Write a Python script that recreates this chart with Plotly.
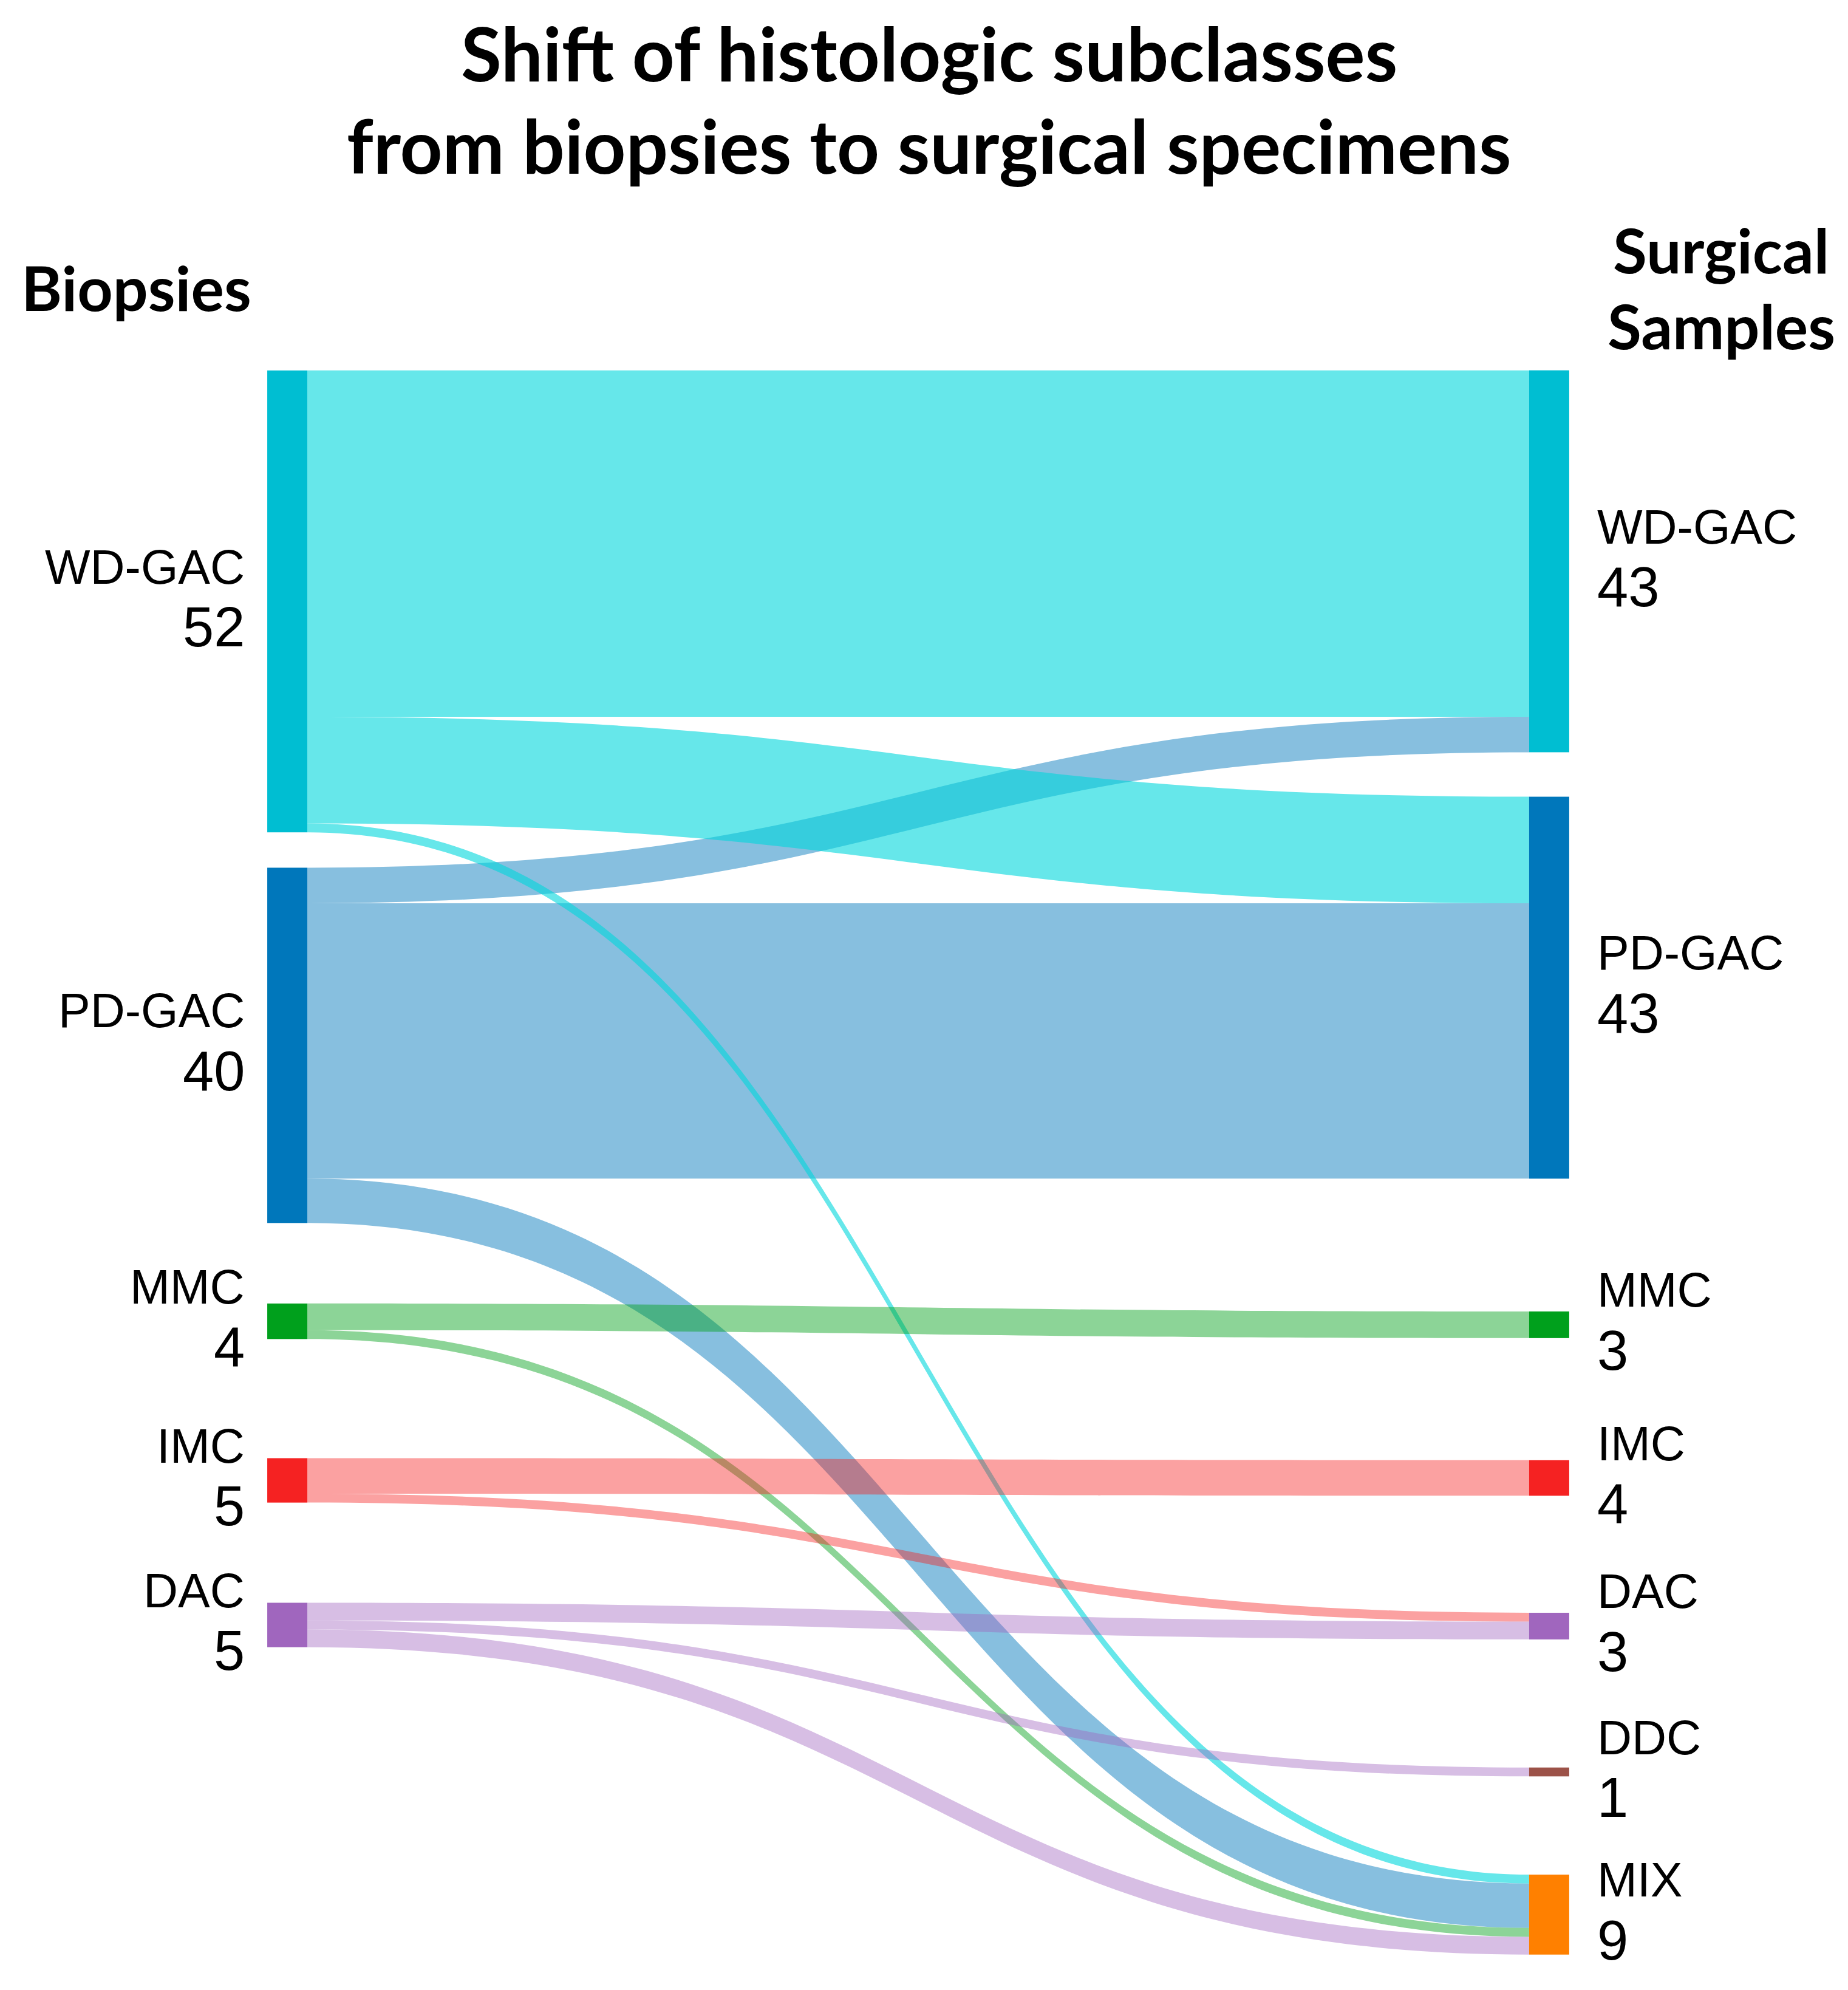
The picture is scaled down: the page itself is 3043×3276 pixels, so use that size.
import plotly.graph_objects as go

# histologic subclasses, left column = biopsies, right column = surgical samples
biopsy_classes = ["WD-GAC", "PD-GAC", "MMC", "IMC", "DAC"]
surgical_classes = ["WD-GAC", "PD-GAC", "MMC", "IMC", "DAC", "DDC", "MIX"]

# flows biopsy -> surgical specimen (indices into the lists above)
# PD-GAC flows listed first so the WD-GAC ribbons are drawn on top of them
flow_source = [1, 1, 1, 0, 0, 0, 2, 2, 3, 3, 4, 4, 4]
flow_target = [0, 1, 6, 0, 1, 6, 2, 6, 3, 4, 4, 5, 6]
flow_count = [4, 31, 5, 39, 12, 1, 3, 1, 4, 1, 2, 1, 2]

node_colors = {
    "WD-GAC": "#00BED2", "PD-GAC": "#0077BB", "MMC": "#00A01C", "IMC": "#F52222",
    "DAC": "#A066BE", "DDC": "#9C5248", "MIX": "#FF8000",
}
link_colors = {
    "WD-GAC": "rgba(0,215,220,0.6)", "PD-GAC": "rgba(0,119,187,0.47)",
    "MMC": "rgba(0,160,25,0.45)", "IMC": "rgba(245,30,30,0.42)",
    "DAC": "rgba(160,100,190,0.42)",
}

# figure / layout geometry (pixels)
W, H = 3043, 3276
dom_x = (463, 2545)
dom_y = (592, 3222)
left_y = [0.1483, 0.4262, 0.5989, 0.6985, 0.7890]
right_y = [0.1232, 0.3901, 0.6011, 0.6970, 0.7897, 0.8810, 0.9703]

n_left = len(biopsy_classes)
left_tot = [sum(c for s, c in zip(flow_source, flow_count) if s == i) for i in range(n_left)]
right_tot = [sum(c for t, c in zip(flow_target, flow_count) if t == i) for i in range(len(surgical_classes))]

labels = biopsy_classes + surgical_classes
fig = go.Figure(go.Sankey(
    domain=dict(x=[dom_x[0] / W, dom_x[1] / W], y=[1 - dom_y[1] / H, 1 - dom_y[0] / H]),
    arrangement="fixed",
    node=dict(
        label=labels,
        color=[node_colors[c] for c in labels],
        x=[0.001] * n_left + [0.999] * len(surgical_classes),
        y=left_y + right_y,
        pad=180,
        thickness=66,
        line=dict(width=0),
    ),
    link=dict(
        source=flow_source,
        target=[t + n_left for t in flow_target],
        value=flow_count,
        color=[link_colors[biopsy_classes[s]] for s in flow_source],
        line=dict(width=0),
    ),
    textfont=dict(size=1, color="rgba(0,0,0,0)"),
))

annotations = []
label_font = "Liberation Sans, Arial, sans-serif"


def add_labels(names, totals, ys, x_px, anchor):
    for name, tot, ny in zip(names, totals, ys):
        cy = dom_y[0] + ny * (dom_y[1] - dom_y[0])
        annotations.append(dict(text=name, x=x_px / W, y=1 - (cy - 57) / H, xref="paper", yref="paper",
                                xanchor=anchor, yanchor="middle", showarrow=False,
                                font=dict(family=label_font, size=79, color="black")))
        annotations.append(dict(text=str(tot), x=x_px / W, y=1 - (cy + 42) / H, xref="paper", yref="paper",
                                xanchor=anchor, yanchor="middle", showarrow=False,
                                font=dict(family=label_font, size=92, color="black")))


add_labels(biopsy_classes, left_tot, left_y, 397, "right")
add_labels(surgical_classes, right_tot, right_y, 2620, "left")


def bold_text(text, x_px, baseline_px, size, anchor):
    # yanchor bottom sits on the descent, so push down by ~0.2 em
    annotations.append(dict(text="<b>%s</b>" % text, x=x_px / W, y=1 - (baseline_px + 0.2 * size) / H,
                            xref="paper", yref="paper", xanchor=anchor, yanchor="bottom", showarrow=False,
                            font=dict(family="Lato, sans-serif", size=size, color="black")))


bold_text("Shift of histologic subclasses", W / 2, 130, 122, "center")
bold_text("from biopsies to surgical specimens", W / 2, 282, 122, "center")
bold_text("Biopsies", 25, 508, 102, "left")
bold_text("Surgical", 2826, 446, 102, "center")
bold_text("Samples", 2826, 571, 102, "center")

fig.update_layout(
    width=W, height=H,
    margin=dict(l=0, r=0, t=0, b=0),
    paper_bgcolor="white",
    annotations=annotations,
)

fig.write_html("out.html")
